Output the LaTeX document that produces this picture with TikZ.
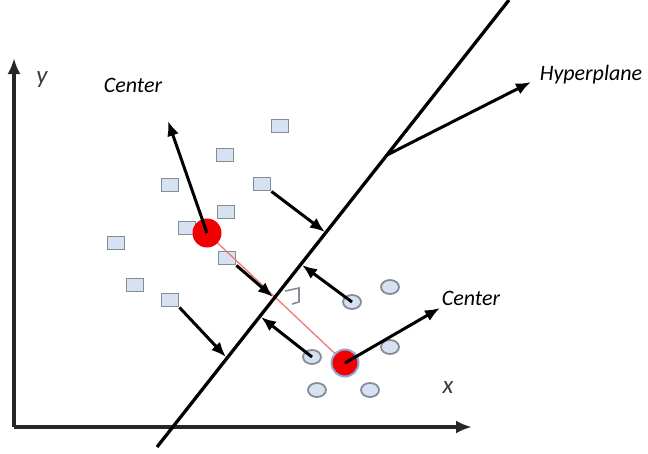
\documentclass[tikz,border=0pt]{standalone}
\usepackage{fontspec}
\setmainfont{Carlito}
\usetikzlibrary{arrows.meta,shapes.geometric}
\definecolor{sqfill}{HTML}{D6E2F2}
\definecolor{sqborder}{HTML}{868C96}
\definecolor{axiscol}{HTML}{262626}
\definecolor{pinkline}{HTML}{F07878}
\definecolor{redc}{HTML}{F00000}
\definecolor{halo}{HTML}{8FA8D8}
\definecolor{labgray}{HTML}{3A3A3A}
\tikzset{
  sq/.style={draw=sqborder, fill=sqfill, minimum width=17pt, minimum height=13pt, inner sep=0pt, line width=1.8pt},
  ci/.style={ellipse, draw=sqborder, fill=sqfill, minimum width=18pt, minimum height=14pt, inner sep=0pt, line width=1.8pt},
  arr/.style={-{Latex[length=15pt,width=12pt]}, line width=3pt, black},
  axisline/.style={-{Latex[length=16pt,width=13pt]}, line width=3.3pt, axiscol},
  lab/.style={font=\fontsize{22}{24}\selectfont\itshape, inner sep=0pt},
  axlab/.style={font=\fontsize{25}{26}\selectfont\itshape, text=labgray, inner sep=0pt},
  redpt/.style={circle, fill=redc, inner sep=0pt}
}
\begin{document}
\begin{tikzpicture}[x=1pt,y=-1pt]
\useasboundingbox (0,0) rectangle (648,453);
% axes
\coordinate (O) at (14,427);
\coordinate (ytip) at (14,58);
\coordinate (xtip) at (472,427);
\draw[axisline] (O) -- (ytip);
\draw[axisline] (O) -- (xtip);
\node[axlab] (ylab) at (42,80) {y};
\node[axlab] (xlab) at (448,388) {x};
% squares
\node[sq] (s1) at (280,126) {};
\node[sq] (s2) at (225,155) {};
\node[sq] (s3) at (170,185) {};
\node[sq] (s4) at (262,184) {};
\node[sq] (s5) at (226,212) {};
\node[sq] (s6) at (187,228) {};
\node[sq] (s7) at (116,243) {};
\node[sq] (s8) at (227,258) {};
\node[sq] (s9) at (135,285) {};
\node[sq] (s10) at (170,300) {};
% circles
\node[ci] (c1) at (390,287) {};
\node[ci] (c2) at (352,302) {};
\node[ci] (c3) at (390,347) {};
\node[ci] (c4) at (312,357) {};
\node[ci] (c5) at (317,390) {};
\node[ci] (c6) at (370,390) {};
% centers
\coordinate (r1) at (207,233);
\coordinate (r2) at (345,363);
\draw[pinkline, line width=1.3pt] (r1) -- (r2);
\node[redpt, minimum size=29pt] (red1) at (r1) {};
\node[redpt, draw=halo, line width=2pt, minimum size=27pt] (red2) at (r2) {};
% right angle marker
\coordinate (m1) at (285,291);
\coordinate (m2) at (299,288);
\coordinate (m3) at (299,302);
\coordinate (m4) at (292,304);
\draw[sqborder, line width=1.6pt] (m1) -- (m2) -- (m3) -- (m4);
% hyperplane
\coordinate (hb) at (157,447);
\coordinate (ht) at (509,0);
\draw[line width=3.3pt, black] (hb) -- (ht);
\coordinate (hbranch) at (387,155);
\coordinate (htip) at (531,82);
\draw[arr] (hbranch) -- (htip);
% arrows to hyperplane
\coordinate (t1) at (325,232);
\coordinate (t2) at (302,265);
\coordinate (t3) at (273,297);
\coordinate (t4) at (261,317);
\coordinate (t5) at (226,357);
\draw[arr] (s4.south east) -- (t1);
\draw[arr] (c2.center) -- (t2);
\draw[arr] (s8.south east) -- (t3);
\draw[arr] (c4.center) -- (t4);
\draw[arr] (s10.south east) -- (t5);
% center arrows
\coordinate (ct1) at (168,121);
\coordinate (ct2) at (440,308);
\draw[arr] (r1) -- (ct1);
\draw[arr] (r2) -- (ct2);
% labels
\node[lab] (center1) at (133,85) {Center};
\node[lab] (center2) at (471,298) {Center};
\node[lab] (hyper) at (591,75) {Hyperplane};
\end{tikzpicture}
\end{document}
